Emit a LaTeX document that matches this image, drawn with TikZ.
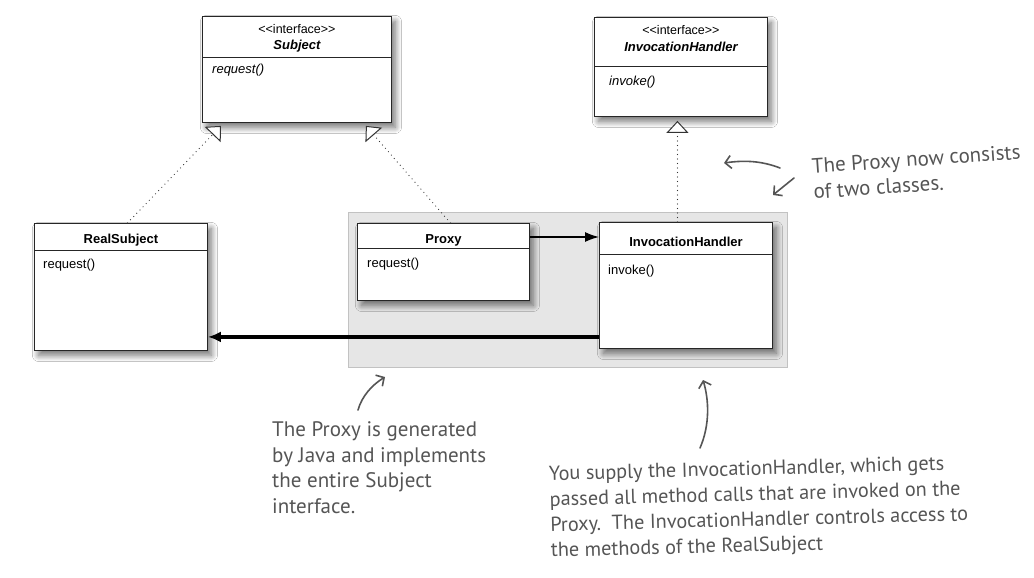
\documentclass[tikz,border=0pt]{standalone}
\usepackage{fontspec}
\setmainfont{Liberation Sans}
\newfontfamily\hand{PT Sans}
\usetikzlibrary{arrows.meta,shadows.blur,calc}
\definecolor{handgray}{HTML}{555555}
\definecolor{panelfill}{HTML}{E6E6E6}
\definecolor{panelline}{HTML}{C2C2C2}
\tikzset{
  umlbox/.style={draw=black!85, fill=white, line width=0.9pt, anchor=north west, inner sep=0pt,
    blur shadow={shadow xshift=4pt, shadow yshift=-5pt, shadow blur radius=6pt, shadow blur steps=12, shadow opacity=55}},
  panel/.style={draw=panelline, fill=panelfill, line width=1.2pt, anchor=north west, inner sep=0pt},
  sepline/.style={draw=black!85, line width=0.9pt},
  stereo/.style={font=\fontsize{12.5}{14}\selectfont, inner sep=0pt, anchor=base},
  cname/.style={font=\fontsize{13}{15}\selectfont\bfseries, inner sep=0pt, anchor=base},
  iname/.style={font=\fontsize{13}{15}\selectfont\bfseries\itshape, inner sep=0pt, anchor=base},
  meth/.style={font=\fontsize{13}{15}\selectfont, inner sep=0pt, anchor=base west},
  imeth/.style={font=\fontsize{13}{15}\selectfont\itshape, inner sep=0pt, anchor=base west},
  dotline/.style={draw=black!80, line width=1.2pt, line cap=round, dash pattern=on 0pt off 4.5pt},
  realize/.style={dotline, -{Triangle[open, length=12pt, width=22pt, line width=1pt, fill=white]}},
  assoc/.style={draw=black, line width=1.3pt, -{Latex[length=14pt, width=10pt]}},
  thickassoc/.style={draw=black, line width=3.5pt, -{Latex[length=13pt, width=11pt]}},
  hand/.style={font=\hand\fontsize{21}{25.5}\selectfont, text=handgray, inner sep=0pt, anchor=base west, align=left},
  notearrow/.style={draw=handgray, line width=1.6pt, line cap=round,
    -{Straight Barb[length=6pt, width=13pt, line width=1.6pt]}}
}
\begin{document}
\begin{tikzpicture}[x=1pt,y=-1pt]
\useasboundingbox (0,0) rectangle (1034,578);
\fill[white] (0,0) rectangle (1034,578);

% grey panel
\node[panel, minimum width=439pt, minimum height=155pt] (panel) at (348,212) {};

% Subject interface
\node[umlbox, minimum width=189pt, minimum height=106pt] (subject) at (202,16) {};
\draw[sepline] ($(subject.north west)+(0,41)$) -- ($(subject.north east)+(0,41)$);
\node[stereo] (subjst) at ($(subject.north)+(0,18)$) {<\kern0pt<interface>\kern0pt>};
\node[iname] (subjname) at ($(subject.north)+(0,34)$) {Subject};
\node[imeth] (subjop) at ($(subject.north west)+(10,58)$) {request()};

% InvocationHandler interface
\node[umlbox, minimum width=173pt, minimum height=99pt] (ihi) at (594,17) {};
\draw[sepline] ($(ihi.north west)+(0,49)$) -- ($(ihi.north east)+(0,49)$);
\node[stereo] (ihist) at ($(ihi.north)+(0,18)$) {<\kern0pt<interface>\kern0pt>};
\node[iname] (ihiname) at ($(ihi.north)+(0,35)$) {InvocationHandler};
\node[imeth] (ihiop) at ($(ihi.north west)+(15,68)$) {invoke()};

% RealSubject
\node[umlbox, minimum width=173pt, minimum height=127pt] (rs) at (34,223) {};
\draw[sepline] ($(rs.north west)+(0,27)$) -- ($(rs.north east)+(0,27)$);
\node[cname] (rsname) at ($(rs.north)+(0,20)$) {RealSubject};
\node[meth] (rsop) at ($(rs.north west)+(9,45)$) {request()};

% Proxy
\node[umlbox, minimum width=172pt, minimum height=77pt] (proxy) at (357,223) {};
\draw[sepline] ($(proxy.north west)+(0,25)$) -- ($(proxy.north east)+(0,25)$);
\node[cname] (proxyname) at ($(proxy.north)+(0,20)$) {Proxy};
\node[meth] (proxyop) at ($(proxy.north west)+(10,44)$) {request()};

% InvocationHandler class
\node[umlbox, minimum width=173pt, minimum height=126pt] (ih) at (599,222) {};
\draw[sepline] ($(ih.north west)+(0,32)$) -- ($(ih.north east)+(0,32)$);
\node[cname] (ihname) at ($(ih.north)+(0,24)$) {InvocationHandler};
\node[meth] (ihop) at ($(ih.north west)+(9,52)$) {invoke()};

% realization connectors
\draw[realize] ($(rs.north)+(6.5,0)$) -- ($(subject.south west)+(19,3)$);
\draw[realize] ($(proxy.north)+(7,0)$) -- ($(subject.south east)+(-26,3)$);
\coordinate (ihtop) at ($(ihi.south)+(-3.5,4)$);
\draw[realize] (ihtop |- ih.north) -- (ihtop);

% associations
\coordinate (pa) at ($(proxy.north east)+(0,14)$);
\draw[assoc] (pa) -- (pa -| ih.west);
\coordinate (ra) at ($(ih.south west)+(0,-12)$);
\draw[thickassoc] (ra) -- (ra -| rs.east);

% notes
\node[hand, rotate=4] (note1) at (814,199) {The Proxy now consists\\of two classes.};
\coordinate (n1s) at (780,168);
\coordinate (n1e) at (724,163);
\draw[notearrow] (n1s) .. controls (762,161) and (745,160) .. (n1e);
\coordinate (n2s) at (794,178);
\coordinate (n2e) at (773,195);
\draw[notearrow] (n2s) -- (n2e);

\node[hand] (note2) at (272,513) {The Proxy is generated\\by Java and implements\\the entire Subject\\interface.};
\coordinate (n3s) at (358,410);
\coordinate (n3e) at (385,377);
\draw[notearrow] (n3s) .. controls (362,396) and (372,385) .. (n3e);

\node[hand, rotate=1.5, font=\hand\fontsize{20.3}{25.5}\selectfont] (note3) at (551,557) {You supply the InvocationHandler, which gets\\passed all method calls that are invoked on the\\Proxy.\ \ The InvocationHandler controls access to\\the methods of the RealSubject};
\coordinate (n4s) at (700,448);
\coordinate (n4e) at (703,380);
\draw[notearrow] (n4s) .. controls (710,425) and (709,400) .. (n4e);
\end{tikzpicture}
\end{document}
